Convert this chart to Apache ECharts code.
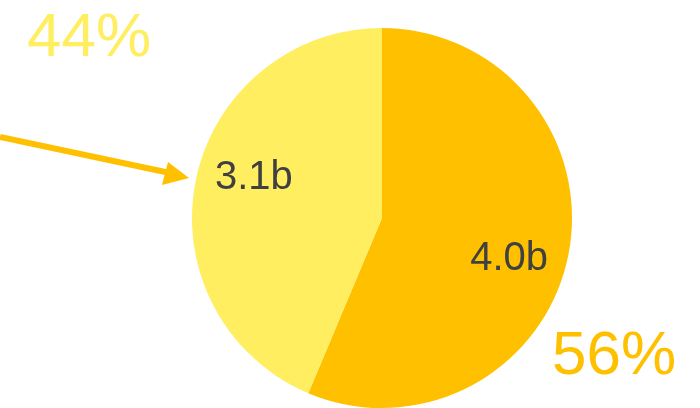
<!DOCTYPE html>
<html>
<head>
<meta charset="utf-8">
<script src="https://cdn.jsdelivr.net/npm/echarts@6/dist/echarts.min.js"></script>
<style>
  html, body { margin: 0; padding: 0; background: #fff; }
  #chart { width: 700px; height: 408px; }
</style>
</head>
<body>
<div id="chart"></div>
<script>
// 数据
var names = ['A', 'B'];
var values = [4.0, 3.1];          // 单位 b
var colors = ['#FFC000', '#FFEE60'];
var labelOffsets = [[31, 22], [-32, -21]];

var total = values[0] + values[1];
var pct = values.map(function (v) { return Math.round(v / total * 100) + '%'; });

var myChart = echarts.init(document.getElementById('chart'));

var option = {
    animation: false,
    textStyle: { fontFamily: 'Liberation Sans, Arial, sans-serif' },
    series: [{
        type: 'pie',
        center: [382, 218],
        radius: 190,
        startAngle: 90,
        clockwise: true,
        silent: true,
        label: {
            show: true,
            position: 'inside',
            color: '#404040',
            fontSize: 40,
            fontFamily: 'Liberation Sans, Arial, sans-serif',
            formatter: function (p) { return p.value.toFixed(1) + 'b'; }
        },
        labelLine: { show: false },
        data: values.map(function (v, i) {
            return {
                name: names[i],
                value: v,
                itemStyle: { color: colors[i] },
                label: { offset: labelOffsets[i] }
            };
        })
    }],
    graphic: [
        {
            type: 'text',
            left: 27, top: 8,
            style: {
                text: pct[1],
                fill: colors[1],
                font: '62px "Liberation Sans", Arial, sans-serif'
            }
        },
        {
            type: 'text',
            left: 552, top: 326,
            style: {
                text: pct[0],
                fill: colors[0],
                font: '62px "Liberation Sans", Arial, sans-serif'
            }
        },
        // 箭头
        {
            type: 'line',
            shape: { x1: 0, y1: 137, x2: 170, y2: 173 },
            style: { stroke: '#FFC000', lineWidth: 6 }
        },
        {
            type: 'polygon',
            shape: { points: [[189, 178], [168, 162], [162, 185]] },
            style: { fill: '#FFC000' }
        }
    ]
};

myChart.setOption(option);
</script>
</body>
</html>
